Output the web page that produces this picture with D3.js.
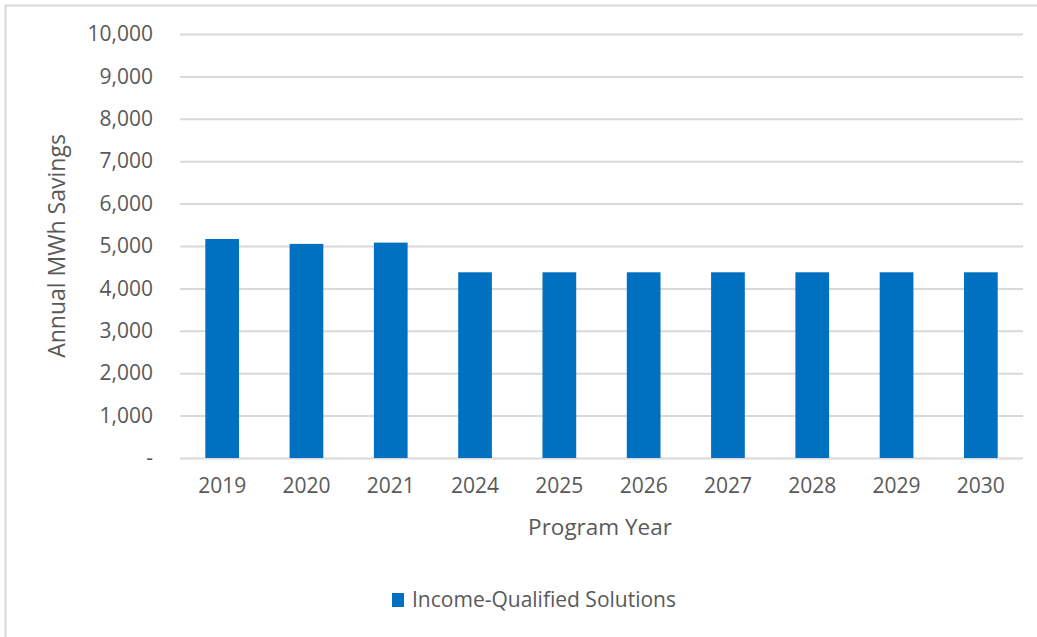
<!DOCTYPE html>
<html>
<head>
<meta charset="utf-8">
<script src="https://cdn.jsdelivr.net/npm/d3@7"></script>
<style>
  body { margin: 0; background: #fff; }
  text { font-family: "Open Sans", sans-serif; fill: #595959; }
</style>
</head>
<body>
<div id="chart"></div>
<script>
var years = ["2019", "2020", "2021", "2024", "2025", "2026", "2027", "2028", "2029", "2030"];
var savings = [5165, 5050, 5080, 4380, 4380, 4380, 4380, 4380, 4380, 4380];
var yTicks = [0, 1000, 2000, 3000, 4000, 5000, 6000, 7000, 8000, 9000, 10000];
var seriesName = "Income-Qualified Solutions";

var data = years.map((y, i) => ({year: y, value: savings[i]}));

var width = 1037, height = 637;
var margin = {top: 34, right: 14, bottom: 179, left: 180};
var chartWidth = width - margin.left - margin.right;
var chartHeight = height - margin.top - margin.bottom;

var svg = d3.select("#chart").append("svg")
  .attr("width", width)
  .attr("height", height);

// chart area border (only top and left show in the picture)
svg.append("rect")
  .attr("x", 5.5).attr("y", 5.5)
  .attr("width", 1040).attr("height", 650)
  .attr("fill", "none")
  .attr("stroke", "#d9d9d9")
  .attr("stroke-width", 2);

var g = svg.append("g")
  .attr("transform", `translate(${margin.left}, ${margin.top})`);

var xScale = d3.scaleBand()
  .domain(years)
  .range([0, chartWidth])
  .paddingInner(0.6)
  .paddingOuter(0.3);

var yScale = d3.scaleLinear()
  .domain([0, 10000])
  .range([chartHeight, 0]);

var yAxis = d3.axisLeft(yScale)
  .tickValues(yTicks)
  .tickSize(-chartWidth)
  .tickPadding(27)
  .tickFormat(d => d === 0 ? "-" : d3.format(",")(d));

g.append("g")
  .attr("class", "y axis")
  .call(yAxis)
  .call(a => a.select(".domain").remove())
  .call(a => a.selectAll("line").attr("stroke", "#d9d9d9").attr("stroke-width", 2))
  .call(a => a.selectAll("text").style("font-size", "21px").attr("fill", "#595959"));

g.selectAll(".bar")
  .data(data)
  .enter()
  .append("rect")
  .attr("class", "bar")
  .attr("x", d => xScale(d.year))
  .attr("y", d => yScale(d.value))
  .attr("width", xScale.bandwidth())
  .attr("height", d => chartHeight - yScale(d.value))
  .attr("fill", "#0070c0");

var xAxis = d3.axisBottom(xScale).tickSize(0).tickPadding(20);

g.append("g")
  .attr("class", "x axis")
  .attr("transform", `translate(0,${chartHeight})`)
  .call(xAxis)
  .call(a => a.select(".domain").remove())
  .call(a => a.selectAll("text").style("font-size", "21px").attr("fill", "#595959"));

// axis titles
svg.append("text")
  .attr("transform", `translate(65, 246) rotate(-90)`)
  .attr("text-anchor", "middle")
  .style("font-size", "23px")
  .text("Annual MWh Savings");

svg.append("text")
  .attr("x", 600)
  .attr("y", 535)
  .attr("text-anchor", "middle")
  .style("font-size", "22.5px")
  .text("Program Year");

// legend
var legend = svg.append("g").attr("transform", "translate(392, 600)");
legend.append("rect")
  .attr("x", 0).attr("y", -7)
  .attr("width", 12).attr("height", 14)
  .attr("fill", "#0070c0");
legend.append("text")
  .attr("x", 20).attr("y", 7)
  .style("font-size", "21px")
  .text(seriesName);
</script>
</body>
</html>
